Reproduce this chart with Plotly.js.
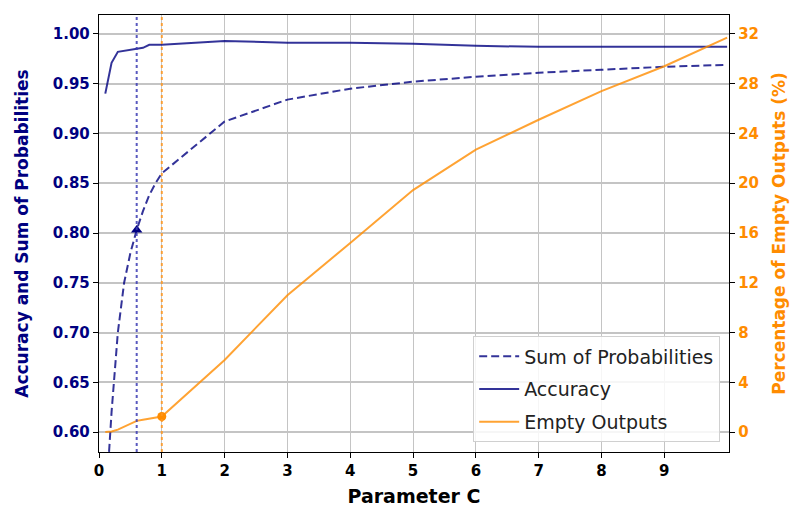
<!DOCTYPE html>
<html>
<head>
<meta charset="utf-8">
<script src="https://cdn.plot.ly/plotly-3.0.1.min.js"></script>
<style>html,body{margin:0;padding:0;background:#fff;}#chart{width:791px;height:512px;}</style>
</head>
<body>
<div id="chart"></div>
<script>
// Parameter C values
const cValues = [0.1, 0.2, 0.3, 0.4, 0.5, 0.6, 0.7, 0.8, 0.9, 1, 2, 3, 4, 5, 6, 7, 8, 9, 10];
// Sum of probabilities (left axis)
const sumProb = [0.52, 0.62, 0.70, 0.75, 0.78, 0.803, 0.822, 0.838, 0.850, 0.860, 0.912, 0.934, 0.945, 0.952, 0.957, 0.961, 0.964, 0.967, 0.969];
// Accuracy (left axis)
const accuracy = [0.940, 0.971, 0.982, 0.983, 0.984, 0.985, 0.986, 0.989, 0.989, 0.989, 0.993, 0.991, 0.991, 0.990, 0.988, 0.987, 0.987, 0.987, 0.987];
// Percentage of empty outputs (right axis)
const emptyPct = [0.0, 0.05, 0.2, 0.45, 0.7, 0.9, 1.0, 1.1, 1.18, 1.25, 5.8, 11.0, 15.2, 19.45, 22.7, 25.1, 27.4, 29.4, 31.7];
// Highlighted points
const markC_sum = 0.6;
const markVal_sum = 0.803;
const markC_empty = 1.0;
const markVal_empty = 1.25;

const leftTicks = [0.60, 0.65, 0.70, 0.75, 0.80, 0.85, 0.90, 0.95, 1.00];
const rightTicks = [0, 4, 8, 12, 16, 20, 24, 28, 32];
const xTicks = [0, 1, 2, 3, 4, 5, 6, 7, 8, 9];

const navy = '#000080';
const navyLine = 'rgba(0,0,128,0.8)';
const orange = '#FF8C00';
const orangeLine = 'rgba(255,140,0,0.8)';

const traces = [
  {x: cValues, y: sumProb, name: 'Sum of Probabilities', mode: 'lines', yaxis: 'y', legendgroup: 'a',
   line: {color: navyLine, width: 2, dash: '8px,4px'}},
  {x: cValues, y: accuracy, name: 'Accuracy', mode: 'lines', yaxis: 'y', legendgroup: 'b',
   line: {color: navyLine, width: 2}},
  {x: cValues, y: emptyPct, name: 'Empty Outputs', mode: 'lines', yaxis: 'y2', legendgroup: 'c',
   line: {color: orangeLine, width: 2}},
  {x: [markC_sum], y: [markVal_sum], mode: 'markers', yaxis: 'y', showlegend: false,
   marker: {symbol: 'triangle-up', size: 10, color: navy}},
  {x: [markC_empty], y: [markVal_empty], mode: 'markers', yaxis: 'y2', showlegend: false,
   marker: {symbol: 'circle', size: 9, color: orange}}
];

const fontFam = 'DejaVu Sans, sans-serif';

const layout = {
  width: 791, height: 512,
  margin: {l: 99, r: 62, t: 15, b: 60},
  paper_bgcolor: '#fff', plot_bgcolor: '#fff',
  showlegend: true,
  xaxis: {
    range: [0, 10.03], tickvals: xTicks, ticktext: xTicks.map(String),
    showgrid: true, gridcolor: '#c4c4c4', gridwidth: 1,
    showline: true, linecolor: '#000', linewidth: 1.2, mirror: true,
    ticks: 'outside', ticklen: 5, tickcolor: '#000',
    tickfont: {family: fontFam, size: 15, color: '#000', weight: 'bold'},
    zeroline: false,
    title: {text: 'Parameter C', font: {family: fontFam, size: 19, color: '#000', weight: 'bold'}, standoff: 10}
  },
  yaxis: {
    range: [0.58, 1.019], tickvals: leftTicks, ticktext: leftTicks.map(v => v.toFixed(2)),
    showgrid: true, gridcolor: '#c4c4c4', gridwidth: 2,
    showline: true, linecolor: '#000', linewidth: 1.2,
    ticks: 'outside', ticklen: 5, tickcolor: '#000',
    tickfont: {family: fontFam, size: 15, color: navy, weight: 'bold'},
    zeroline: false,
    title: {text: 'Accuracy and Sum of Probabilities', font: {family: fontFam, size: 17, color: navy, weight: 'bold'}, standoff: 19}
  },
  yaxis2: {
    overlaying: 'y', side: 'right',
    range: [-1.6, 33.52], tickvals: rightTicks, ticktext: rightTicks.map(String),
    showgrid: true, gridcolor: '#c4c4c4', gridwidth: 1,
    showline: true, linecolor: '#000', linewidth: 1.2,
    ticks: 'outside', ticklen: 5, tickcolor: '#000',
    tickfont: {family: fontFam, size: 15, color: orange, weight: 'bold'},
    zeroline: false,
    title: {text: 'Percentage of Empty Outputs (%)', font: {family: fontFam, size: 17, color: orange, weight: 'bold'}, standoff: 15}
  },
  legend: {
    x: 0.986, y: 0.022, xanchor: 'right', yanchor: 'bottom',
    bgcolor: 'rgba(255,255,255,0.85)', bordercolor: '#d0d0d0', borderwidth: 1,
    font: {family: fontFam, size: 19, color: '#222'},
    traceorder: 'grouped', tracegroupgap: 5, itemwidth: 40
  },
  shapes: [
    {type: 'line', xref: 'x', yref: 'paper', x0: markC_sum, x1: markC_sum, y0: 0, y1: 1,
     line: {color: 'rgba(60,60,180,0.85)', width: 2, dash: 'dot'}, layer: 'above'},
    {type: 'line', xref: 'x', yref: 'paper', x0: markC_empty, x1: markC_empty, y0: 0, y1: 1,
     line: {color: 'rgba(255,150,30,0.85)', width: 2, dash: 'dot'}, layer: 'above'}
  ]
};

Plotly.newPlot('chart', traces, layout, {displayModeBar: false, staticPlot: true});
</script>
</body>
</html>
